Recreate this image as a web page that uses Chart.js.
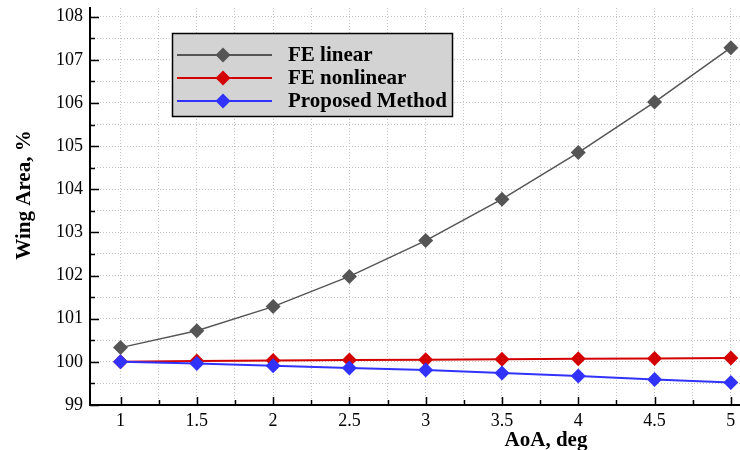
<!DOCTYPE html>
<html>
<head>
<meta charset="utf-8">
<script src="https://cdn.jsdelivr.net/npm/chart.js@4"></script>
<style>
  html, body { margin:0; padding:0; background:#fff; }
</style>
</head>
<body>
<canvas id="areaChart" width="740" height="450"></canvas>
<script>
// AoA values (deg) and wing area (%) for each method
const aoa = [1, 1.5, 2, 2.5, 3, 3.5, 4, 4.5, 5];
const feLinear = [100.33, 100.72, 101.28, 101.98, 102.81, 103.77, 104.85, 106.02, 107.28];
const feNonlinear = [100.00, 100.02, 100.03, 100.04, 100.05, 100.06, 100.07, 100.08, 100.09];
const proposed = [100.00, 99.96, 99.91, 99.86, 99.81, 99.74, 99.67, 99.59, 99.52];
const seriesNames = ['FE linear', 'FE nonlinear', 'Proposed Method'];
const seriesColors = ['#555555', '#d40000', '#3232ff'];
const xTitle = 'AoA, deg';
const yTitle = 'Wing Area, %';

const serif = '"Liberation Serif", "Times New Roman", serif';
Chart.defaults.font.family = serif;

function toPoints(vals) {
  return aoa.map((a, i) => ({ x: a, y: vals[i] }));
}

function diamond(ctx, x, y, r, color) {
  ctx.beginPath();
  ctx.moveTo(x, y - r);
  ctx.lineTo(x + r, y);
  ctx.lineTo(x, y + r);
  ctx.lineTo(x - r, y);
  ctx.closePath();
  ctx.fillStyle = color;
  ctx.fill();
}

// inward ticks, boxed legend and axis titles
const decor = {
  id: 'decor',
  afterDraw(chart) {
    const { ctx, chartArea, scales: { x, y } } = chart;
    ctx.save();
    ctx.strokeStyle = '#000';
    ctx.lineWidth = 1.5;
    y.ticks.forEach(t => {
      const py = Math.round(y.getPixelForValue(t.value)) + 0.5;
      const len = Number.isInteger(t.value) ? 9 : 5;
      ctx.beginPath();
      ctx.moveTo(chartArea.left, py);
      ctx.lineTo(chartArea.left + len, py);
      ctx.stroke();
    });
    x.ticks.forEach(t => {
      const px = Math.round(x.getPixelForValue(t.value)) + 0.5;
      const len = Number.isInteger(t.value * 2) ? 8 : 5;
      ctx.beginPath();
      ctx.moveTo(px, chartArea.bottom);
      ctx.lineTo(px, chartArea.bottom - len);
      ctx.stroke();
    });

    // legend box
    ctx.fillStyle = '#d3d3d3';
    ctx.fillRect(172, 33, 281, 84);
    ctx.lineWidth = 1.5;
    ctx.strokeRect(172.5, 33.5, 280, 83);
    const rows = [55, 78, 101];
    ctx.font = 'bold 21px ' + serif;
    ctx.textBaseline = 'middle';
    ctx.textAlign = 'left';
    seriesNames.forEach((name, i) => {
      ctx.strokeStyle = seriesColors[i];
      ctx.lineWidth = 2;
      ctx.beginPath();
      ctx.moveTo(177, rows[i]);
      ctx.lineTo(272, rows[i]);
      ctx.stroke();
      diamond(ctx, 223, rows[i], 7.5, seriesColors[i]);
      ctx.fillStyle = '#000';
      ctx.fillText(name, 288, rows[i] + 1);
    });

    // axis titles
    ctx.fillStyle = '#000';
    ctx.font = 'bold 21px ' + serif;
    ctx.textAlign = 'center';
    ctx.fillText(xTitle, 546, 441);
    ctx.translate(25, 195);
    ctx.rotate(-Math.PI / 2);
    ctx.fillText(yTitle, 0, 0);
    ctx.restore();
  }
};

const datasets = [feLinear, feNonlinear, proposed].map((vals, i) => ({
  label: seriesNames[i],
  data: toPoints(vals),
  borderColor: seriesColors[i],
  backgroundColor: seriesColors[i],
  borderWidth: i === 0 ? 1.5 : 2,
  pointStyle: 'rectRot',
  pointRadius: 7.5,
  pointBorderWidth: 0,
  pointBackgroundColor: seriesColors[i],
  tension: 0,
  clip: false,
  order: 2 - i
}));

const tickFont = { family: serif, size: 18 };

new Chart(document.getElementById('areaChart'), {
  type: 'line',
  data: { datasets: datasets },
  options: {
    responsive: false,
    animation: false,
    devicePixelRatio: 1,
    layout: { autoPadding: false, padding: { top: 8, right: 0, left: 0, bottom: 0 } },
    plugins: { legend: { display: false }, tooltip: { enabled: false } },
    scales: {
      x: {
        type: 'linear',
        min: 0.8,
        max: 5.06,
        afterFit(scale) {
          scale.height = 45;
          scale.paddingLeft = 0;
          scale.paddingRight = 0;
        },
        ticks: {
          stepSize: 0.25,
          includeBounds: false,
          autoSkip: false,
          maxRotation: 0,
          padding: 5,
          color: '#000',
          font: tickFont,
          callback: v => Number.isInteger(v * 2) ? String(v) : ''
        },
        grid: { color: '#c4c4c4', lineWidth: 1, drawTicks: false },
        border: { display: true, color: '#000', width: 2, dash: [1, 2] }
      },
      y: {
        min: 99,
        max: 108.2,
        afterFit(scale) {
          scale.width = 90;
          scale.paddingTop = 0;
          scale.paddingBottom = 0;
        },
        ticks: {
          stepSize: 0.5,
          includeBounds: false,
          autoSkip: false,
          padding: 7,
          color: '#000',
          font: tickFont,
          callback: v => Number.isInteger(v) ? String(v) : ''
        },
        grid: { color: '#c4c4c4', lineWidth: 1, drawTicks: false },
        border: { display: true, color: '#000', width: 2, dash: [1, 2] }
      }
    }
  },
  plugins: [decor]
});
</script>
</body>
</html>
